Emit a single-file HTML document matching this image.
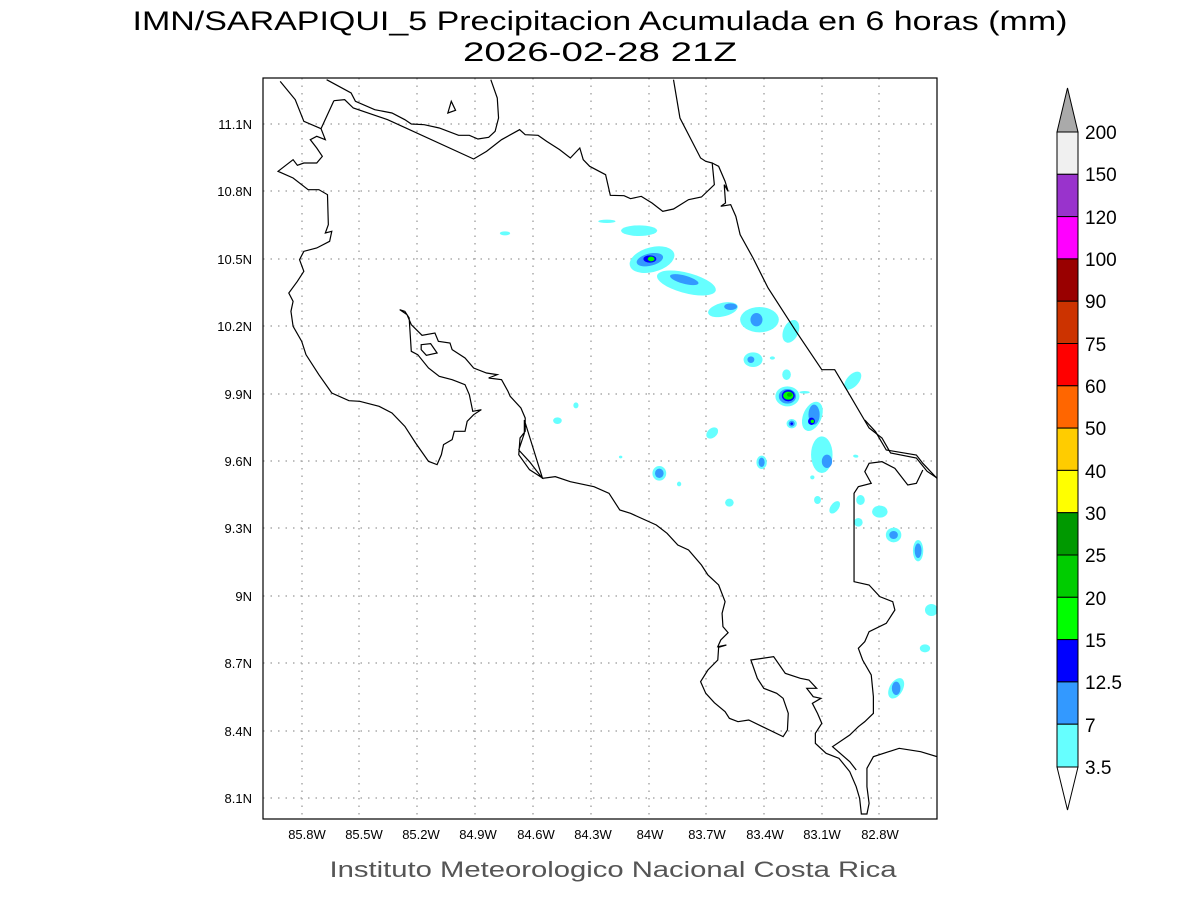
<!DOCTYPE html>
<html><head><meta charset="utf-8"><style>html,body{margin:0;padding:0;background:#fff}svg{display:block}</style></head>
<body>
<svg width="1200" height="900" viewBox="0 0 1200 900" xmlns="http://www.w3.org/2000/svg" font-family="Liberation Sans, DejaVu Sans, sans-serif">
<rect width="1200" height="900" fill="#fff"/>
<text x="600" y="30" font-size="27" text-anchor="middle" textLength="935" lengthAdjust="spacingAndGlyphs" fill="#000">IMN/SARAPIQUI_5 Precipitacion Acumulada en 6 horas (mm)</text>
<text x="600" y="61" font-size="27" text-anchor="middle" textLength="274" lengthAdjust="spacingAndGlyphs" fill="#000">2026-02-28 21Z</text>
<defs><clipPath id="c"><rect x="0" y="0" width="1568" height="2223"/></clipPath></defs>
<!-- grid -->
<g stroke="#aaa" stroke-width="1.5" stroke-dasharray="1.5,6">
<line x1="263" y1="124" x2="937" y2="124"/><line x1="263" y1="191" x2="937" y2="191"/><line x1="263" y1="259" x2="937" y2="259"/><line x1="263" y1="326" x2="937" y2="326"/><line x1="263" y1="394" x2="937" y2="394"/><line x1="263" y1="461" x2="937" y2="461"/><line x1="263" y1="528" x2="937" y2="528"/><line x1="263" y1="596" x2="937" y2="596"/><line x1="263" y1="663" x2="937" y2="663"/><line x1="263" y1="731" x2="937" y2="731"/><line x1="263" y1="798" x2="937" y2="798"/>
<line x1="302" y1="78" x2="302" y2="819"/><line x1="359" y1="78" x2="359" y2="819"/><line x1="417" y1="78" x2="417" y2="819"/><line x1="475" y1="78" x2="475" y2="819"/><line x1="533" y1="78" x2="533" y2="819"/><line x1="591" y1="78" x2="591" y2="819"/><line x1="649" y1="78" x2="649" y2="819"/><line x1="706" y1="78" x2="706" y2="819"/><line x1="764" y1="78" x2="764" y2="819"/><line x1="822" y1="78" x2="822" y2="819"/><line x1="879" y1="78" x2="879" y2="819"/>
</g>
<g transform="translate(263,78) scale(0.42985,0.33333)" clip-path="url(#c)">
<g fill="#66ffff">
<ellipse cx="800" cy="430" rx="20" ry="5"/><ellipse cx="563" cy="466" rx="12" ry="6"/><ellipse cx="875" cy="458" rx="42" ry="16"/>
<ellipse cx="905" cy="545" rx="55" ry="36" transform="rotate(-25 905 545)"/>
<ellipse cx="985" cy="615" rx="72" ry="30" transform="rotate(20 985 615)"/>
<ellipse cx="1070" cy="695" rx="36" ry="20" transform="rotate(-20 1070 695)"/>
<ellipse cx="1155" cy="725" rx="45" ry="38"/><ellipse cx="1228" cy="760" rx="18" ry="35" transform="rotate(15 1228 760)"/>
<ellipse cx="1140" cy="845" rx="22" ry="22"/><ellipse cx="1185" cy="840" rx="6" ry="5"/>
<ellipse cx="1372" cy="908" rx="15" ry="30" transform="rotate(30 1372 908)"/><ellipse cx="1218" cy="890" rx="10" ry="16"/>
<ellipse cx="1220" cy="955" rx="28" ry="30"/><ellipse cx="1260" cy="943" rx="12" ry="4"/>
<ellipse cx="1278" cy="1015" rx="22" ry="45" transform="rotate(15 1278 1015)"/>
<ellipse cx="1230" cy="1037" rx="12" ry="14"/><ellipse cx="1045" cy="1065" rx="12" ry="18" transform="rotate(30 1045 1065)"/>
<ellipse cx="728" cy="982" rx="6" ry="9"/><ellipse cx="685" cy="1028" rx="10" ry="10"/><ellipse cx="832" cy="1137" rx="4" ry="4"/>
<ellipse cx="1300" cy="1130" rx="25" ry="55"/><ellipse cx="1160" cy="1153" rx="12" ry="20"/><ellipse cx="1380" cy="1135" rx="5" ry="4"/>
<ellipse cx="922" cy="1186" rx="16" ry="22"/><ellipse cx="968" cy="1218" rx="5" ry="7"/><ellipse cx="1085" cy="1274" rx="10" ry="12"/>
<ellipse cx="1290" cy="1266" rx="8" ry="12"/><ellipse cx="1330" cy="1288" rx="10" ry="20" transform="rotate(25 1330 1288)"/>
<ellipse cx="1390" cy="1266" rx="10" ry="15"/><ellipse cx="1385" cy="1333" rx="10" ry="13"/><ellipse cx="1435" cy="1301" rx="18" ry="18"/>
<ellipse cx="1467" cy="1371" rx="18" ry="22"/><ellipse cx="1524" cy="1418" rx="12" ry="32"/><ellipse cx="1555" cy="1596" rx="15" ry="18"/>
<ellipse cx="1540" cy="1711" rx="12" ry="12"/><ellipse cx="1473" cy="1831" rx="16" ry="32" transform="rotate(20 1473 1831)"/>
<ellipse cx="1278" cy="1198" rx="5" ry="6"/><ellipse cx="1378" cy="1134" rx="5" ry="4"/>
</g>
<g fill="#3399ff">
<ellipse cx="900" cy="545" rx="32" ry="18" transform="rotate(-20 900 545)"/><ellipse cx="980" cy="605" rx="35" ry="12" transform="rotate(20 980 605)"/>
<ellipse cx="1088" cy="686" rx="15" ry="10"/><ellipse cx="1148" cy="725" rx="14" ry="20"/><ellipse cx="1135" cy="845" rx="8" ry="10"/>
<ellipse cx="1220" cy="955" rx="20" ry="22"/><ellipse cx="1282" cy="1010" rx="13" ry="30"/><ellipse cx="1230" cy="1037" rx="7" ry="9"/>
<ellipse cx="1312" cy="1150" rx="12" ry="20"/><ellipse cx="1160" cy="1153" rx="7" ry="14"/><ellipse cx="922" cy="1186" rx="10" ry="14"/>
<ellipse cx="1467" cy="1371" rx="10" ry="12"/><ellipse cx="1524" cy="1418" rx="8" ry="22"/><ellipse cx="1473" cy="1831" rx="10" ry="20"/>
</g>
<g fill="#0000ff"><ellipse cx="900" cy="543" rx="15" ry="11"/><ellipse cx="1222" cy="953" rx="15" ry="17"/><ellipse cx="1276" cy="1030" rx="8" ry="11"/><ellipse cx="1230" cy="1037" rx="3" ry="4"/></g>
<g fill="#00ff00"><ellipse cx="903" cy="543" rx="8" ry="7"/><ellipse cx="1222" cy="953" rx="12" ry="12"/><ellipse cx="1278" cy="1030" rx="4" ry="5"/></g>
<ellipse cx="1225" cy="950" rx="6" ry="6" fill="#00bb00"/>
<g fill="none" stroke="#000" stroke-width="1.2" vector-effect="non-scaling-stroke">
<polyline vector-effect="non-scaling-stroke" points="148,5 205,45 215,70 260,95 300,105 330,125 345,138 375,140 410,150 455,172 480,172 500,183 525,178 540,160 548,120 545,60 530,5"/>
<polygon vector-effect="non-scaling-stroke" points="430,105 438,70 448,97"/>
<polyline vector-effect="non-scaling-stroke" points="165,68 190,65 210,90 290,125 490,243 520,220 555,185 597,155 610,170 640,172 660,190 690,215 715,240 737,210 745,245 760,265 797,290 808,352 840,353 855,362 880,355 905,375 930,400 955,393 990,365 1020,357 1050,320 1045,255 1030,250 1018,240 1000,195 970,120 955,5"/>
<polyline vector-effect="non-scaling-stroke" points="1045,255 1060,265 1075,310 1082,340 1073,320 1076,375 1065,385 1088,380 1100,415 1110,470 1140,540 1175,630 1240,760 1300,875 1330,875 1360,940 1410,1050 1440,1080 1460,1125 1520,1140 1545,1180 1568,1200"/>
<polyline vector-effect="non-scaling-stroke" points="165,68 135,152 145,185 125,175 110,185 125,210 138,235 125,255 95,255 80,262 70,245 35,280 70,300 105,335 130,335 150,350 152,440 145,465 160,460 155,490 125,510 95,520 85,545 95,580 80,610 60,645 70,670 65,700 70,745 90,790 100,830 130,890 160,945 200,968 225,970 270,985 300,1005 330,1045 355,1095 385,1150 405,1160 415,1130 420,1100 440,1085 445,1060 470,1060 475,1030 490,1010 508,995 488,1000 480,950 470,920 440,905 410,895 385,870 360,830 345,820 340,720 330,700 318,695 335,710 345,740 370,772 400,765 408,790 435,795 440,815 470,840 490,870 520,885 545,890 525,900 555,905 570,940 575,955 600,990 610,1020 610,1060 598,1080 595,1130 620,1175 650,1200 608,1026 608,1066 595,1116 620,1151 650,1201 680,1196 715,1211 770,1226 805,1246 830,1296 855,1306 915,1341 940,1366 965,1401 990,1416 1020,1461 1035,1491 1060,1521 1075,1571 1068,1606 1070,1646 1082,1664 1065,1686 1058,1706 1078,1701 1060,1708 1058,1746 1035,1776 1018,1811 1030,1846 1050,1874 1075,1901 1085,1921 1105,1931 1130,1926 1210,1976 1220,1956 1222,1906 1210,1861 1195,1846 1165,1831 1150,1801 1135,1746 1188,1736 1215,1786 1250,1801 1270,1806 1288,1831 1265,1831 1280,1856 1298,1861 1278,1876 1290,1906 1300,1936 1285,1966 1285,1996 1310,2026 1340,2041 1365,2081 1380,2126 1388,2161 1392,2208 1405,2208 1410,2176 1405,2126 1405,2071 1420,2036 1480,2011 1530,2021 1568,2036"/>
<polyline vector-effect="non-scaling-stroke" points="40,10 75,65 95,130 135,152"/>
<polygon vector-effect="non-scaling-stroke" points="368,800 390,797 405,825 380,832 368,815"/>
<polyline vector-effect="non-scaling-stroke" points="1400,1026 1425,1061 1450,1116 1520,1131 1535,1156 1568,1201"/>
<polyline vector-effect="non-scaling-stroke" points="1535,1176 1520,1216 1500,1221 1470,1171 1440,1151 1410,1156 1400,1181 1415,1216 1385,1226 1375,1246 1375,1511 1410,1521 1435,1556 1465,1571 1470,1596 1450,1636 1410,1661 1400,1691 1385,1711 1395,1746 1415,1791 1420,1856 1420,1906 1400,1931 1385,1946 1365,1971 1325,2006 1365,2051 1380,2076"/>
</g>
</g>
<rect x="263" y="78" width="674" height="741" fill="none" stroke="#000" stroke-width="1.2"/>
<g font-size="13" text-anchor="end" fill="#000">
<text x="252" y="129">11.1N</text><text x="252" y="196">10.8N</text><text x="252" y="264">10.5N</text><text x="252" y="331">10.2N</text><text x="252" y="399">9.9N</text><text x="252" y="466">9.6N</text><text x="252" y="533">9.3N</text><text x="252" y="601">9N</text><text x="252" y="668">8.7N</text><text x="252" y="736">8.4N</text><text x="252" y="803">8.1N</text>
</g>
<g font-size="13" text-anchor="middle" fill="#000">
<text x="307" y="839">85.8W</text><text x="364" y="839">85.5W</text><text x="421" y="839">85.2W</text><text x="478" y="839">84.9W</text><text x="536" y="839">84.6W</text><text x="593" y="839">84.3W</text><text x="650" y="839">84W</text><text x="707" y="839">83.7W</text><text x="765" y="839">83.4W</text><text x="822" y="839">83.1W</text><text x="880" y="839">82.8W</text>
</g>
<text x="613" y="877" font-size="22" text-anchor="middle" textLength="567" lengthAdjust="spacingAndGlyphs" fill="#555">Instituto Meteorologico Nacional Costa Rica</text>
<g stroke="#000" stroke-width="1">
<polygon points="1057,132 1078,132 1067.5,88" fill="#aaaaaa"/>
<rect x="1057" y="132" width="21" height="42.3" fill="#f0f0f0"/>
<rect x="1057" y="174.3" width="21" height="42.3" fill="#9933cc"/>
<rect x="1057" y="216.6" width="21" height="42.3" fill="#ff00ff"/>
<rect x="1057" y="258.9" width="21" height="42.3" fill="#990000"/>
<rect x="1057" y="301.2" width="21" height="42.3" fill="#cc3300"/>
<rect x="1057" y="343.5" width="21" height="42.3" fill="#ff0000"/>
<rect x="1057" y="385.8" width="21" height="42.3" fill="#ff6600"/>
<rect x="1057" y="428.1" width="21" height="42.3" fill="#ffcc00"/>
<rect x="1057" y="470.4" width="21" height="42.3" fill="#ffff00"/>
<rect x="1057" y="512.7" width="21" height="42.3" fill="#009900"/>
<rect x="1057" y="555" width="21" height="42.3" fill="#00cc00"/>
<rect x="1057" y="597.3" width="21" height="42.3" fill="#00ff00"/>
<rect x="1057" y="639.6" width="21" height="42.3" fill="#0000ff"/>
<rect x="1057" y="681.9" width="21" height="42.3" fill="#3399ff"/>
<rect x="1057" y="724.2" width="21" height="42.8" fill="#66ffff"/>
<polygon points="1057,767 1078,767 1067.5,810" fill="#fff"/>
</g>
<g font-size="19" fill="#000">
<text x="1085" y="139">200</text><text x="1085" y="181">150</text><text x="1085" y="224">120</text><text x="1085" y="266">100</text><text x="1085" y="308">90</text><text x="1085" y="351">75</text><text x="1085" y="393">60</text><text x="1085" y="435">50</text><text x="1085" y="478">40</text><text x="1085" y="520">30</text><text x="1085" y="562">25</text><text x="1085" y="605">20</text><text x="1085" y="647">15</text><text x="1085" y="689">12.5</text><text x="1085" y="732">7</text><text x="1085" y="774">3.5</text>
</g>
</svg>
</body></html>
